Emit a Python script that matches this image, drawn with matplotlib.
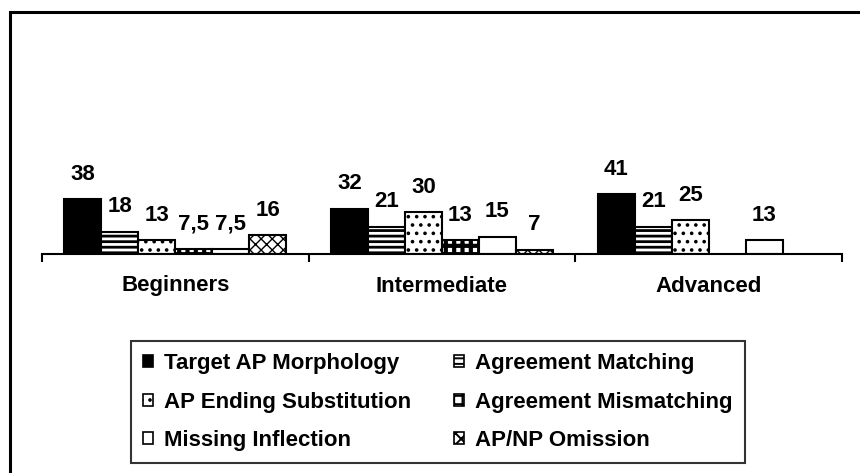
import matplotlib
matplotlib.use("Agg")
import matplotlib.pyplot as plt
import matplotlib.transforms as mtransforms
import numpy as np
from matplotlib.patches import Rectangle, Patch

plt.rcParams['font.family'] = ['Liberation Sans', 'DejaVu Sans']
plt.rcParams['font.weight'] = 'bold'
plt.rcParams['hatch.linewidth'] = 1.4

groups = ["Beginners", "Intermediate", "Advanced"]
series = ["Target AP Morphology", "Agreement Matching", "AP Ending Substitution",
          "Agreement Mismatching", "Missing Inflection", "AP/NP Omission"]
target_ap = [38, 32, 41]
agreement_matching = [18, 21, 21]
ap_ending = [13, 30, 25]
agreement_mismatching = [7.5, 13, np.nan]
missing_inflection = [7.5, 15, 13]
apnp_omission = [16, 7, np.nan]
values = [target_ap, agreement_matching, ap_ending,
          agreement_mismatching, missing_inflection, apnp_omission]

styles = [
    dict(facecolor='black', hatch=None, hlw=1.4),
    dict(facecolor='white', hatch='---', hlw=2.0),
    dict(facecolor='white', hatch='..', hlw=1.4),
    dict(facecolor='white', hatch='++', hlw=3.0),
    dict(facecolor='white', hatch=None, hlw=1.4),
    dict(facecolor='white', hatch='xxx', hlw=1.0),
]

W, H = 860, 473
fig = plt.figure(figsize=(W/100, H/100), dpi=100)

ymin, ymax = 4.5, 60
ppu = 1.64
ax_left, ax_right = 42, 842
base_y = 254
ax_h = ppu * (ymax - ymin)
ax = fig.add_axes([ax_left/W, (H-base_y)/H, (ax_right-ax_left)/W, ax_h/H])

x = np.arange(len(groups))
bw = 37/267
for i, (vals, st) in enumerate(zip(values, styles)):
    pos = x + (i - 2.5) * bw
    v = np.array(vals, dtype=float)
    bars = ax.bar(pos, v - ymin, bottom=ymin, width=bw, color=st['facecolor'],
                  edgecolor='black', linewidth=1.5, hatch=st['hatch'], label=series[i])
    for b in bars:
        try:
            b.set_hatch_linewidth(st['hlw'])
        except Exception:
            pass
    for p, val in zip(pos, v):
        if np.isnan(val):
            continue
        txt = (f"{val:g}").replace('.', ',')
        ax.annotate(txt, (p, val), xytext=(0, 25), textcoords='offset pixels',
                    ha='center', va='center', fontsize=16, fontweight='bold')

ax.set_xlim(-0.5, 2.5)
ax.set_ylim(ymin, ymax)
for s in ['top', 'right', 'left']:
    ax.spines[s].set_visible(False)
ax.spines['bottom'].set_linewidth(1.5)
ax.set_yticks([])
ax.set_xticks([-0.5, 0.5, 1.5, 2.5])
ax.set_xticklabels([])
ax.tick_params(axis='x', length=6, width=1.5, direction='out')
lab_tr = mtransforms.offset_copy(ax.get_xaxis_transform(), fig=fig, x=0, y=-32, units='dots')
for xi, g in zip(x, groups):
    ax.text(xi, 0, g, transform=lab_tr, ha='center', va='center',
            fontsize=16, fontweight='bold')

# legend
handles = []
for st in styles:
    h = Patch(facecolor=st['facecolor'], edgecolor='black', hatch=st['hatch'], linewidth=1.2)
    handles.append(h)
order = [0, 2, 4, 1, 3, 5]
leg = fig.legend([handles[k] for k in order], [series[k] for k in order], ncol=2,
                 loc='upper left', bbox_to_anchor=(131/W, 1-341/H),
                 frameon=True, fancybox=False, edgecolor='black',
                 fontsize=16, handlelength=0.45, handleheight=0.45, handletextpad=0.5,
                 labelspacing=0.78, borderpad=0.55, columnspacing=1.9, borderaxespad=0)
leg.get_frame().set_linewidth(1.5)
for t in leg.get_texts():
    t.set_fontweight('bold')

# outer frame
fig.patches.append(Rectangle((10/W, -0.1), 1.2, 1.1 - 12/H, transform=fig.transFigure,
                             fill=False, edgecolor='black', linewidth=2.2))

fig.savefig('out.png', dpi=100)
